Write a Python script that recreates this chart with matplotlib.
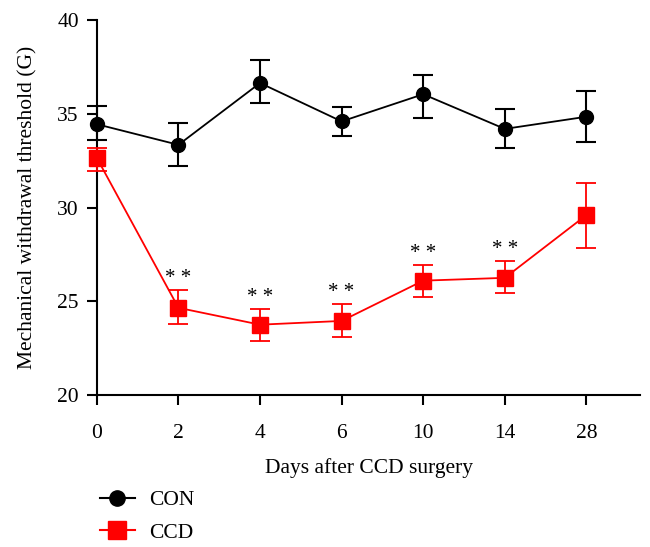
import matplotlib.pyplot as plt
from matplotlib.lines import Line2D
import numpy as np

plt.rcParams['font.family'] = ['Liberation Serif', 'DejaVu Serif']

days = ['0', '2', '4', '6', '10', '14', '28']
con_mean = [34.45, 33.35, 36.65, 34.6, 36.05, 34.2, 34.85]
con_hi = [35.4, 34.5, 37.9, 35.35, 37.1, 35.25, 36.2]
con_lo = [33.6, 32.2, 35.6, 33.8, 34.8, 33.2, 33.5]
ccd_mean = [32.65, 24.65, 23.75, 23.95, 26.1, 26.25, 29.6]
ccd_hi = [33.2, 25.6, 24.6, 24.85, 26.95, 27.15, 31.3]
ccd_lo = [31.95, 23.8, 22.9, 23.1, 25.25, 25.45, 27.85]
stars = ['', '**', '**', '**', '**', '**', '']

x = np.arange(len(days))
con_mean = np.array(con_mean)
ccd_mean = np.array(ccd_mean)
con_err = [con_mean - np.array(con_lo), np.array(con_hi) - con_mean]
ccd_err = [ccd_mean - np.array(ccd_lo), np.array(ccd_hi) - ccd_mean]

fig = plt.figure(figsize=(6.5, 5.47), dpi=100)
ax = fig.add_axes([0.149, 0.278, 0.836, 0.685])

red = '#ff0000'
l1 = ax.errorbar(x, con_mean, yerr=con_err, color='black', marker='o', markersize=10,
                 lw=1.3, elinewidth=1.5, capsize=7.5, capthick=1.5, zorder=3)
l2 = ax.errorbar(x, ccd_mean, yerr=ccd_err, color=red, marker='s', markersize=11,
                 lw=1.3, elinewidth=1.3, capsize=7.5, capthick=1.3, zorder=4)
for bar in (l1, l2):
    for art in bar.get_children():
        art.set_clip_on(False)

for xi, top, s in zip(x, ccd_hi, stars):
    if s:
        ax.text(xi, top + 0.6, '* *', ha='center', va='center', fontsize=15)

ax.set_xlim(0, 6.66)
ax.set_ylim(20, 40)
ax.set_xticks(x)
ax.set_xticklabels(days)
ax.set_yticks([20, 25, 30, 35, 40])
ax.spines['top'].set_visible(False)
ax.spines['right'].set_visible(False)
ax.spines['left'].set_linewidth(1.5)
ax.spines['bottom'].set_linewidth(1.5)
ax.tick_params(direction='out', length=7, width=1.5, labelsize=15.5)
ax.tick_params(axis='x', pad=14)
ax.tick_params(axis='y', pad=6)
ax.set_xlabel('Days after CCD surgery', fontsize=15.5, labelpad=11)
ax.set_ylabel('Mechanical withdrawal threshold (G)', fontsize=15.5, labelpad=14)

h1 = Line2D([], [], color='black', marker='o', markersize=11, lw=1.5)
h2 = Line2D([], [], color=red, marker='s', markersize=13, lw=1.5)
fig.legend(handles=[h1, h2], labels=['CON', 'CCD'], loc='upper left',
           bbox_to_anchor=(0.14, 0.12), frameon=False, fontsize=15.5,
           handlelength=1.65, handletextpad=0.65, labelspacing=0.6, borderaxespad=0)

fig.savefig('out.png', dpi=100)
